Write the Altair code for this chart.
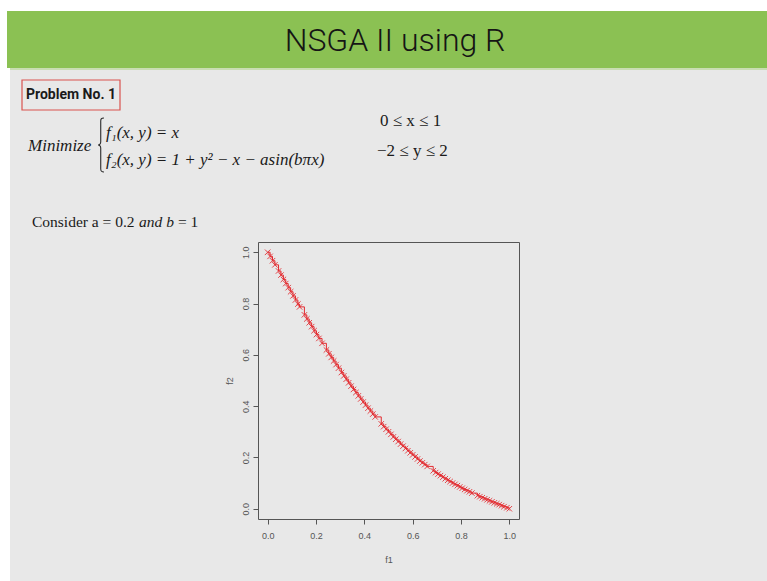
import altair as alt
import pandas as pd

# ---- data (Pareto front, f1 vs f2) ----
f1_vals = [0.000, 0.010, 0.020, 0.030, 0.045, 0.055, 0.065, 0.075, 0.085, 0.095,
           0.105, 0.115, 0.125, 0.132, 0.152, 0.162, 0.172, 0.182, 0.192, 0.202,
           0.212, 0.225, 0.243, 0.253, 0.263, 0.273, 0.283, 0.293, 0.305, 0.315,
           0.325, 0.335, 0.345, 0.355, 0.365, 0.375, 0.385, 0.395, 0.405, 0.415,
           0.425, 0.435, 0.445, 0.470, 0.480, 0.490, 0.500, 0.510, 0.520, 0.530,
           0.540, 0.550, 0.560, 0.570, 0.580, 0.590, 0.600, 0.610, 0.620, 0.630,
           0.640, 0.650, 0.660, 0.685, 0.695, 0.705, 0.715, 0.725, 0.735, 0.745,
           0.755, 0.765, 0.775, 0.785, 0.795, 0.805, 0.815, 0.825, 0.835, 0.845,
           0.868, 0.878, 0.888, 0.898, 0.908, 0.918, 0.928, 0.938, 0.948, 0.958,
           0.968, 0.978, 0.990, 1.000]
f2_vals = [1.000, 0.984, 0.967, 0.951, 0.927, 0.911, 0.894, 0.878, 0.862, 0.846,
           0.830, 0.814, 0.798, 0.787, 0.756, 0.740, 0.725, 0.710, 0.694, 0.679,
           0.664, 0.645, 0.619, 0.604, 0.590, 0.576, 0.562, 0.548, 0.531, 0.518,
           0.505, 0.491, 0.478, 0.465, 0.453, 0.440, 0.428, 0.416, 0.404, 0.392,
           0.381, 0.369, 0.358, 0.331, 0.320, 0.310, 0.300, 0.290, 0.280, 0.271,
           0.262, 0.252, 0.244, 0.235, 0.226, 0.218, 0.210, 0.202, 0.194, 0.186,
           0.179, 0.172, 0.165, 0.148, 0.141, 0.135, 0.129, 0.123, 0.117, 0.111,
           0.106, 0.100, 0.095, 0.090, 0.085, 0.080, 0.075, 0.0705, 0.066, 0.061,
           0.051, 0.047, 0.043, 0.039, 0.035, 0.031, 0.027, 0.023, 0.0195, 0.016,
           0.012, 0.008, 0.004, 0.000]
x_ticks = [0.0, 0.2, 0.4, 0.6, 0.8, 1.0]
y_ticks = [0.0, 0.2, 0.4, 0.6, 0.8, 1.0]

slide_title = "NSGA II using R"
problem_label = "Problem No. 1"
minimize_label = "Minimize"
f1_text = "f\u2081(x, y) = x"
f2_text = "f\u2082(x, y) = 1 + y\u00b2 \u2212 x \u2212 asin(b\u03c0x)"
cons_x = "0 \u2264 x \u2264 1"
cons_y = "\u22122 \u2264 y \u2264 2"

df = pd.DataFrame({"f1": f1_vals, "f2": f2_vals})

OX, OY = 258, 242          # plot-area origin on the page
W, H = 261, 277            # plot-area size
RED = "#E32A2F"
one = alt.Data(values=[{"k": 1}])


def px(v):
    return alt.value(v - OX)


def py(v):
    return alt.value(v - OY)


def rect(x1, x2, y1, y2, color):
    return alt.Chart(one).mark_rect(color=color).encode(
        x=px(x1), x2=px(x2), y=py(y1), y2=py(y2))


def text(s, x, y, size, font, color="#1a1a1a", style="normal", weight="normal", align="left"):
    return alt.Chart(one).mark_text(
        text=s, align=align, baseline="middle", font=font, fontSize=size,
        fontStyle=style, fontWeight=weight, color=color).encode(x=px(x), y=py(y))


SERIF = "Liberation Serif"
SANS = "Roboto"

BRACE = ("M0.11,-1 C0,-1 -0.01,-0.96 -0.01,-0.88 L-0.01,-0.12 "
         "C-0.01,-0.04 -0.05,0 -0.11,0 C-0.05,0 -0.01,0.04 -0.01,0.12 "
         "L-0.01,0.88 C-0.01,0.96 0,1 0.11,1")

deco = [
    rect(0, 767, 0, 11, "#FFFFFF"),
    rect(0, 10, 0, 581, "#FFFFFF"),
    rect(7, 767, 11, 68, "#8BC153"),
    rect(10, 767, 68, 70, "#C9DDB2"),
    text(slide_title, 395, 41, 32, SANS, color="#151515", weight=300, align="center"),
    alt.Chart(one).mark_rect(fill=None, stroke="#D9534F", strokeWidth=1.2).encode(
        x=px(22), x2=px(120), y=py(80), y2=py(110)),
    text(problem_label, 71, 95, 14, SANS, weight="bold", align="center"),
    text(minimize_label, 28, 146, 17, SERIF, style="italic"),
    alt.Chart(one).mark_point(shape=BRACE, size=2916, filled=False, color="#2a2a2a",
                              strokeWidth=1.1, opacity=1).encode(x=px(101), y=py(145)),
    text(f1_text, 106, 133, 17, SERIF, style="italic"),
    text(f2_text, 106, 160, 17, SERIF, style="italic"),
    text(cons_x, 380, 121, 17, SERIF),
    text(cons_y, 377, 151, 17, SERIF),
    text("Consider a = 0.2", 32, 222, 15.5, SERIF),
    text("and b", 139, 222, 15.5, SERIF, style="italic"),
    text("= 1", 178, 222, 15.5, SERIF),
]

xs = alt.Scale(domain=[-0.04, 1.04], nice=False, zero=False)
ys = alt.Scale(domain=[-0.04, 1.04], nice=False, zero=False)

line = alt.Chart(df).mark_line(interpolate="step-after", color=RED, strokeWidth=1).encode(
    x=alt.X("f1:Q", scale=xs,
            axis=alt.Axis(values=x_ticks, format=".1f", title="f1",
                          labelPadding=7, titlePadding=15)),
    y=alt.Y("f2:Q", scale=ys,
            axis=alt.Axis(values=y_ticks, format=".1f", title="f2", labelAngle=270,
                          labelAlign="center", labelBaseline="bottom",
                          labelPadding=3, titlePadding=7)),
)
pts = alt.Chart(df).mark_point(
    shape="M-1,-1L1,1M-1,1L1,-1", size=30, color=RED, strokeWidth=1, opacity=0.85,
    filled=False).encode(x=alt.X("f1:Q", scale=xs), y=alt.Y("f2:Q", scale=ys))

chart = alt.layer(*deco, line, pts).properties(
    width=W, height=H,
    autosize=alt.AutoSizeParams(type="none"),
    padding={"left": OX, "top": OY, "right": 767 - OX - W, "bottom": 581 - OY - H},
    background="#E8E8E8",
).configure_view(stroke="#555555", strokeWidth=1).configure_axis(
    domain=False, grid=False, tickColor="#555555", tickSize=5,
    labelFont="Liberation Sans", labelFontSize=9, labelColor="#555555",
    titleFont="Liberation Sans", titleFontSize=9, titleFontWeight="normal",
    titleColor="#555555",
)

chart.save("out.html", embed_options={"renderer": "svg", "actions": False})
